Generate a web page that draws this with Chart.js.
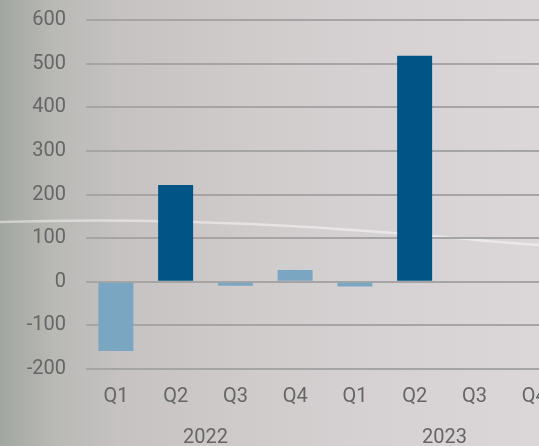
<!DOCTYPE html>
<html>
<head>
<meta charset="utf-8">
<script src="https://cdn.jsdelivr.net/npm/chart.js"></script>
<style>
  html, body { margin: 0; padding: 0; overflow: hidden; width: 539px; height: 446px; }
  body {
    background: linear-gradient(to right, #a2a6a0 0%, #b9b9b6 10%, #c5c2c1 22%, #cfcbcb 45%, #d6d2d3 70%, #dbd7d8 100%);
    position: relative;
  }
  #streak { position: absolute; left: 0; top: 0; }
  #wrap { position: absolute; left: 0; top: -12px; width: 564px; height: 462px; }
</style>
</head>
<body>
<svg id="streak" width="539" height="446">
  <path d="M0 222 C 120 218, 250 222, 380 232 S 500 243, 539 245" stroke="rgba(255,255,255,0.45)" stroke-width="2.5" fill="none"/>
</svg>
<div id="wrap"><canvas id="c" width="564" height="462"></canvas></div>
<script>
// Trimestres y años
const trimestres = ['Q1', 'Q2', 'Q3', 'Q4', 'Q1', 'Q2', 'Q3', 'Q4'];
const anios = ['2022', '2023'];
const valores = [-159, 222, -9, 27, -11, 518, null, null];
const colores = ['#7ba6c2', '#005586', '#7ba6c2', '#7ba6c2', '#7ba6c2', '#005586', '#7ba6c2', '#7ba6c2'];
const ticksY = [-200, -100, 0, 100, 200, 300, 400, 500, 600];

Chart.defaults.font.family = 'Roboto';
Chart.defaults.font.size = 20;
Chart.defaults.color = '#666666';

new Chart(document.getElementById('c').getContext('2d'), {
  type: 'bar',
  data: {
    labels: trimestres,
    datasets: [{
      data: valores,
      backgroundColor: colores,
      barPercentage: 1,
      categoryPercentage: 0.586
    }]
  },
  options: {
    responsive: false,
    animation: false,
    layout: { padding: { top: 7, right: 0, bottom: 0, left: 0 } },
    plugins: { legend: { display: false }, tooltip: { enabled: false } },
    scales: {
      y: {
        min: ticksY[0],
        max: ticksY[ticksY.length - 1],
        afterBuildTicks: s => { s.ticks = ticksY.map(v => ({ value: v })); },
        border: { display: false },
        grid: { color: '#a5a5a5', lineWidth: 2, drawTicks: false },
        ticks: { padding: 20 },
        afterFit: s => { s.width = 86; }
      },
      x: {
        position: 'bottom',
        border: { display: false },
        grid: { display: false, drawTicks: false },
        ticks: { padding: 16, maxRotation: 0, autoSkip: false },
        afterFit: s => { s.height = 40; }
      },
      x2: {
        type: 'category',
        labels: anios,
        position: 'bottom',
        offset: true,
        border: { display: false },
        grid: { display: false, drawTicks: false },
        ticks: { padding: 17, maxRotation: 0 },
        afterFit: s => { s.height = 41; }
      }
    }
  }
});
</script>
</body>
</html>
